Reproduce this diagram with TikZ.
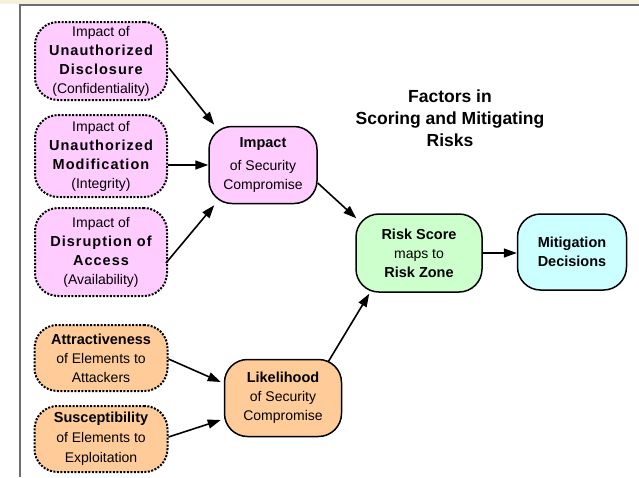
\documentclass[tikz,border=0pt]{standalone}
\usepackage{fontspec}
\setmainfont{Liberation Sans}
\usetikzlibrary{arrows.meta}
\definecolor{pinkf}{RGB}{255,204,255}
\definecolor{orangef}{RGB}{255,204,153}
\definecolor{greenf}{RGB}{204,255,204}
\definecolor{cyanf}{RGB}{204,255,255}
\definecolor{beigef}{RGB}{244,240,220}
\definecolor{framec}{RGB}{110,110,110}
\newcommand\hb[1]{{\fontsize{14.5}{19}\selectfont\bfseries #1}}
\newcommand\pbold[1]{{\fontsize{14.5}{19}\selectfont\bfseries\addfontfeatures{LetterSpace=7}#1}}
\begin{document}
\begin{tikzpicture}[x=1pt,y=-1pt,
  box/.style={rounded corners=23pt, line width=1.5pt, draw=black, align=center,
    inner sep=0pt, font=\fontsize{14}{19}\selectfont},
  dotbox/.style={box, dash pattern=on 2pt off 1.5pt, line width=2pt},
  arr/.style={line width=1.6pt, -{Triangle[length=13pt,width=9pt]}},
  titlestyle/.style={align=center, font=\fontsize{17.5}{22}\selectfont\bfseries}]
\useasboundingbox (0,0) rectangle (639,477);
\fill[beigef] (0,0) rectangle (639,3.5);
\draw[framec, line width=1.5pt] (639,5) -- (20,5) -- (20,477);

\node[dotbox, fill=pinkf, minimum width=132pt, minimum height=78pt] (conf) at (101,61)
  {Impact of\\\pbold{Unauthorized}\\\pbold{Disclosure}\\(Confidentiality)};
\node[dotbox, fill=pinkf, minimum width=132pt, minimum height=82pt] (integ) at (101,156)
  {Impact of\\\pbold{Unauthorized}\\\pbold{Modification}\\(Integrity)};
\node[dotbox, fill=pinkf, minimum width=132pt, minimum height=88pt] (avail) at (101,252)
  {Impact of\\\pbold{Disruption of}\\\pbold{Access}\\(Availability)};
\node[box, fill=pinkf, minimum width=108pt, minimum height=77pt] (impact) at (263,165)
  {\hb{Impact}\\[4pt]of Security\\Compromise};

\node[dotbox, fill=orangef, minimum width=133pt, minimum height=66pt] (attr) at (101,358)
  {\hb{Attractiveness}\\of Elements to\\Attackers};
\node[dotbox, fill=orangef, minimum width=133pt, minimum height=66pt] (susc) at (101,439)
  {\hb{Susceptibility}\\[1pt]of Elements to\\[1pt]Exploitation};
\node[box, fill=orangef, minimum width=117pt, minimum height=77pt] (like) at (283,398)
  {\hb{Likelihood}\\of Security\\Compromise};

\node[box, fill=greenf, minimum width=126pt, minimum height=78pt] (risk) at (419,253)
  {\hb{Risk Score}\\maps to\\\hb{Risk Zone}};
\node[box, fill=cyanf, minimum width=109pt, minimum height=76pt] (mitig) at (572,252)
  {\hb{Mitigation}\\\hb{Decisions}};

\node[titlestyle] (title) at (450,118) {Factors in\\Scoring and Mitigating\\Risks};

\draw[arr] ([shift={(1,7)}]conf.east) -- ([shift={(6,-1)}]impact.north west);
\draw[arr] (integ.east |- impact.west) -- (impact.west);
\draw[arr] ([shift={(-2,11)}]avail.east) -- ([shift={(6,1)}]impact.south west);
\draw[arr] ([shift={(0,18)}]impact.east) -- ([shift={(1,5)}]risk.north west);
\draw[arr] (risk.east) -- (mitig.west |- risk.east);
\draw[arr] ([shift={(0,1)}]attr.east) -- ([shift={(-3,-16)}]like.west);
\draw[arr] ([shift={(0,-2)}]susc.east) -- ([shift={(-3,22)}]like.west);
\draw[arr] ([shift={(-14,3)}]like.north east) -- ([shift={(14,1)}]risk.south west);
\end{tikzpicture}
\end{document}
